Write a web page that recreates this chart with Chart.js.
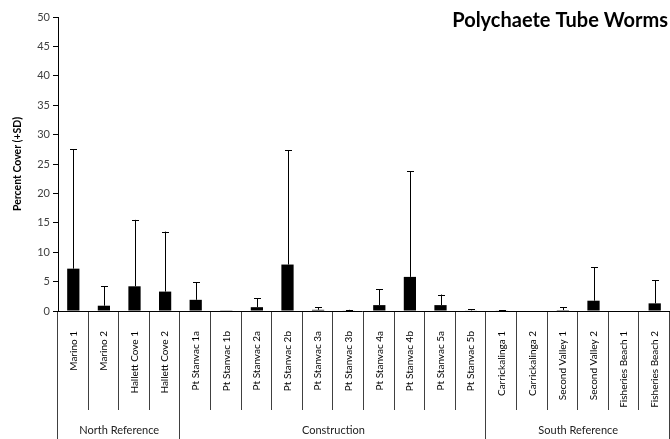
<!DOCTYPE html>
<html>
<head>
<meta charset="utf-8">
<script src="https://cdn.jsdelivr.net/npm/chart.js@4/dist/chart.umd.min.js"></script>
<style>
  html, body { margin: 0; padding: 0; background: #fff; }
  #wrap { width: 670px; height: 439px; position: relative; }
</style>
</head>
<body>
<div id="wrap"><canvas id="chart"></canvas></div>
<script>
// site names along the x axis
const sites = [
  'Marino 1', 'Marino 2', 'Hallett Cove 1', 'Hallett Cove 2',
  'Pt Stanvac 1a', 'Pt Stanvac 1b', 'Pt Stanvac 2a', 'Pt Stanvac 2b', 'Pt Stanvac 3a',
  'Pt Stanvac 3b', 'Pt Stanvac 4a', 'Pt Stanvac 4b', 'Pt Stanvac 5a', 'Pt Stanvac 5b',
  'Carrickalinga 1', 'Carrickalinga 2', 'Second Valley 1', 'Second Valley 2',
  'Fisheries Beach 1', 'Fisheries Beach 2'
];
// mean percent cover and standard deviation per site
const meanCover = [7.2, 0.9, 4.2, 3.3, 1.9, 0.05, 0.65, 7.9, 0.2, 0.1, 1.0, 5.8, 1.0, 0.1, 0.1, 0, 0.15, 1.75, 0, 1.3];
const sdCover = [20.3, 3.3, 11.3, 10.2, 3.0, 0, 1.55, 19.4, 0.4, 0.1, 2.7, 18.0, 1.8, 0.2, 0.05, 0, 0.45, 5.65, 0, 3.9];
// site groups: label and how many sites each one spans
const groupNames = ['North Reference', 'Construction', 'South Reference'];
const groupSizes = [4, 10, 6];
const yTicks = [0, 5, 10, 15, 20, 25, 30, 35, 40, 45, 50];

const FONT = 'Lato, "Liberation Sans", sans-serif';

// upward error bars (+SD) on top of each bar
const errorBars = {
  id: 'errorBars',
  afterDatasetsDraw(chart) {
    const ctx = chart.ctx;
    const y = chart.scales.y;
    const meta = chart.getDatasetMeta(0);
    ctx.save();
    ctx.strokeStyle = '#000';
    ctx.lineWidth = 1;
    meta.data.forEach((bar, i) => {
      if (!sdCover[i] && !meanCover[i]) return;
      const x = Math.round(bar.x) + 0.5;
      const top = y.getPixelForValue(meanCover[i] + sdCover[i]);
      const base = y.getPixelForValue(meanCover[i]);
      ctx.beginPath();
      ctx.moveTo(x, base);
      ctx.lineTo(x, top);
      ctx.moveTo(x - 3.5, Math.round(top) + 0.5);
      ctx.lineTo(x + 3.5, Math.round(top) + 0.5);
      ctx.stroke();
    });
    ctx.restore();
  }
};

// category separators, group labels and the chart heading
const groupAxis = {
  id: 'groupAxis',
  afterDraw(chart) {
    const ctx = chart.ctx;
    const xs = chart.scales.x;
    const area = chart.chartArea;
    const bottom = chart.height;
    ctx.save();
    ctx.strokeStyle = '#404040';
    ctx.lineWidth = 1;

    const groupEdges = [0];
    groupSizes.forEach(n => groupEdges.push(groupEdges[groupEdges.length - 1] + n));

    for (let i = 0; i <= sites.length; i++) {
      const x = Math.round(xs.getPixelForValue(i - 0.5)) - 0.5;
      const isGroup = groupEdges.includes(i);
      ctx.beginPath();
      ctx.moveTo(x, area.bottom);
      ctx.lineTo(x, isGroup ? bottom : area.bottom + 99);
      ctx.stroke();
    }

    // axis line runs slightly past the y axis
    ctx.strokeStyle = '#000';
    ctx.beginPath();
    ctx.moveTo(area.left - 3, Math.round(area.bottom) + 0.5);
    ctx.lineTo(area.right, Math.round(area.bottom) + 0.5);
    ctx.stroke();

    ctx.fillStyle = '#222';
    ctx.font = '11px ' + FONT;
    ctx.textAlign = 'center';
    ctx.textBaseline = 'middle';
    groupNames.forEach((name, g) => {
      const x0 = xs.getPixelForValue(groupEdges[g] - 0.5);
      const x1 = xs.getPixelForValue(groupEdges[g + 1] - 0.5);
      ctx.fillText(name, (x0 + x1) / 2, bottom - 9);
    });

    ctx.fillStyle = '#000';
    ctx.font = 'bold 20px ' + FONT;
    ctx.textAlign = 'right';
    ctx.textBaseline = 'alphabetic';
    ctx.fillText('Polychaete Tube Worms', area.right - 2, area.top + 10);
    ctx.restore();
  }
};

new Chart(document.getElementById('chart'), {
  type: 'bar',
  data: {
    labels: sites,
    datasets: [{
      data: meanCover,
      backgroundColor: '#000',
      borderWidth: 0,
      categoryPercentage: 1,
      barPercentage: 0.4
    }]
  },
  options: {
    responsive: true,
    maintainAspectRatio: false,
    animation: false,
    layout: { padding: { top: 17, right: 0, left: 0, bottom: 0 } },
    plugins: {
      legend: { display: false },
      tooltip: { enabled: false },
      title: { display: false }
    },
    scales: {
      x: {
        grid: { display: false },
        border: { display: false },
        ticks: {
          minRotation: 90,
          maxRotation: 90,
          autoSkip: false,
          padding: 12,
          color: '#000',
          font: { family: FONT, size: 10 }
        },
        afterFit(scale) {
          scale.height = 128;
          scale.paddingLeft = 0;
          scale.paddingRight = 0;
        }
      },
      y: {
        min: 0,
        max: 50,
        afterBuildTicks(scale) { scale.ticks = yTicks.map(v => ({ value: v })); },
        grid: { drawOnChartArea: false, tickLength: 5, color: '#000' },
        border: { display: true, color: '#000' },
        ticks: {
          padding: 3,
          color: '#404040',
          font: { family: FONT, size: 11 }
        },
        title: {
          display: true,
          text: 'Percent Cover (+SD)',
          color: '#000',
          font: { family: FONT, size: 10.5, weight: 'bold' },
          padding: { top: 11, bottom: 0 }
        },
        afterFit(scale) { scale.width = 58; }
      }
    }
  },
  plugins: [errorBars, groupAxis]
});
</script>
</body>
</html>
